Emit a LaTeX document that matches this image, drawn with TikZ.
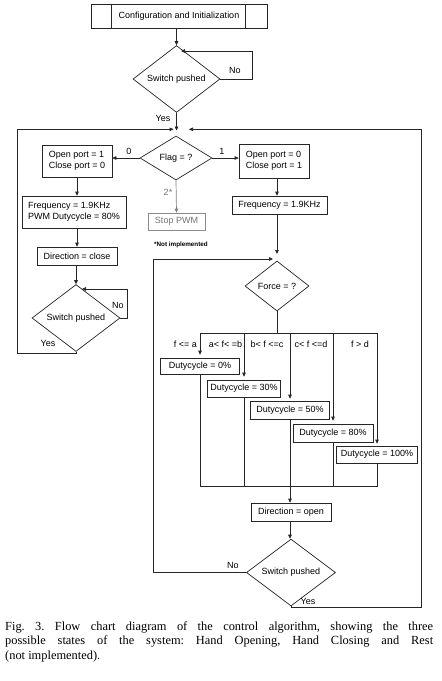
\documentclass[tikz,border=0pt]{standalone}
\usepackage{fontspec}
\setmainfont{Liberation Sans}
\newfontfamily\capfont{Liberation Serif}
\usetikzlibrary{shapes.geometric,arrows.meta}
\frenchspacing
\begin{document}
\begin{tikzpicture}[x=1pt,y=-1pt,
  every node/.style={font=\fontsize{9}{11.5}\selectfont, inner sep=0pt},
  box/.style={draw=black!85, line width=0.7pt, align=center},
  lbox/.style={draw=black!85, line width=0.7pt, align=left},
  dia/.style={draw=black!85, diamond, line width=0.7pt},
  ln/.style={line width=0.7pt, draw=black!85},
  arr/.style={-{Triangle[length=4pt,width=3.6pt]}, line width=0.7pt, draw=black!85},
  lbl/.style={font=\fontsize{9}{11}\selectfont},
  captxt/.style={font=\capfont\fontsize{12.4}{14.5}\selectfont, anchor=base west}
]
\useasboundingbox[fill=white] (0,0) rectangle (442,681);

% top part
\node[box, minimum width=176pt, minimum height=24pt] (cfg) at (179,16) {Configuration and Initialization};
\draw[ln] ([xshift=21pt]cfg.north west) -- ([xshift=21pt]cfg.south west);
\draw[ln] ([xshift=-22pt]cfg.north east) -- ([xshift=-22pt]cfg.south east);

\node[dia, minimum width=87pt, minimum height=50pt] (sw1) at (176.5,79) {Switch pushed};
\draw[arr] (sw1.north |- cfg.south) -- (sw1.north);
\coordinate (n1a) at (252,79);
\coordinate (n1b) at (252,51);
\coordinate (n1c) at (181,51);
\draw[arr] (sw1.east) -- (n1a) -- (n1b) -- (n1c);
\node[lbl] (no1) at (235,70) {No};

\coordinate (j0) at (176.5,130.5);
\draw[arr] (sw1.south) -- (j0);
\node[lbl] (yes1) at (163,118) {Yes};

\node[dia, minimum width=72pt, minimum height=44pt] (flag) at (176,158) {Flag = ?};

% left branch
\node[lbox, minimum width=70pt, minimum height=32pt] (lb1) at (77,161) {Open port = 1\\Close port = 0};
\draw[arr] (flag.west) -- (lb1.east |- flag.west);
\node[lbl] (l0) at (129,151) {0};

\node[lbox, minimum width=104pt, minimum height=32pt] (lb2) at (74,212) {Frequency = 1.9KHz\\PWM Dutycycle = 80\%};
\draw[arr] (lb1.south) -- (lb1.south |- lb2.north);

\node[box, minimum width=80pt, minimum height=18pt] (lb3) at (77,256) {Direction = close};
\draw[arr] (lb2.south -| lb3.south) -- (lb3.north);

\node[dia, minimum width=88pt, minimum height=49pt] (sw2) at (76,318) {Switch pushed};
\draw[arr] (lb3.south -| sw2.north) -- (sw2.north);
\coordinate (n2a) at (127,318);
\coordinate (n2b) at (127,289);
\coordinate (n2c) at (82,289);
\draw[arr] (sw2.east) -- (n2a) -- (n2b) -- (n2c);
\node[lbl] (no2) at (118,305) {No};

\coordinate (y2a) at (76,353);
\coordinate (y2b) at (17,353);
\coordinate (y2c) at (17,129.3);
\coordinate (y2d) at (173.5,129.3);
\draw[arr] (sw2.south) -- (y2a) -- (y2b) -- (y2c) -- (y2d);
\node[lbl] (yes2) at (48,343) {Yes};

% middle (not implemented)
\node[box, draw=black!45, text=black!55, minimum width=57pt, minimum height=17pt] (stop) at (176.5,221.5) {Stop PWM};
\draw[arr, draw=black!50] (flag.south) -- (stop.north);
\node[lbl, text=black!55] (l2) at (168,192) {2*};
\node[font=\fontsize{6.3}{7}\selectfont\bfseries] (note) at (181,245) {*Not implemented};

% right branch
\node[lbox, minimum width=70pt, minimum height=34pt] (rb1) at (274,161) {Open port = 0\\Close port = 1};
\draw[arr] (flag.east) -- (rb1.west |- flag.east);
\node[lbl] (l1) at (222,151) {1};

\node[box, minimum width=95pt, minimum height=18pt] (rb2) at (279.5,205) {Frequency = 1.9KHz};
\coordinate (rbx) at (277,0);
\draw[arr] (rb1.south -| rbx) -- (rb2.north -| rbx);

\node[dia, minimum width=64pt, minimum height=50pt] (force) at (277,286) {Force = ?};
\coordinate (fin) at (277,254);
\draw[arr] (rb2.south -| fin) -- (fin);

% duty cycle cases
\node[box, minimum width=79pt, minimum height=16pt] (d0) at (200,366) {Dutycycle = 0\%};
\node[box, minimum width=73pt, minimum height=17pt] (d30) at (244,388.5) {Dutycycle = 30\%};
\node[box, minimum width=79pt, minimum height=18pt] (d50) at (290,410) {Dutycycle = 50\%};
\node[box, minimum width=80pt, minimum height=18pt] (d80) at (333,433) {Dutycycle = 80\%};
\node[box, minimum width=81pt, minimum height=17pt] (d100) at (377,454.5) {Dutycycle = 100\%};

\coordinate (fb) at (277,333);
\coordinate (b0) at (200,333);
\coordinate (b4) at (377,333);
\draw[ln] (force.south) -- (fb);
\draw[ln] (b0) -- (b4);
\draw[arr, shorten >=3pt] (b0) -- (d0.north);
\draw[arr, shorten >=3pt] (d30.north |- fb) -- (d30.north);
\draw[arr, shorten >=2pt] (d50.north |- fb) -- (d50.north);
\draw[arr, shorten >=3pt] (d80.north |- fb) -- (d80.north);
\draw[arr, shorten >=2pt] (b4) -- (d100.north);

\node[lbl, anchor=east] (c0) at (197,344) {f <= a};
\node[lbl] (c1) at (225.5,344) {a< f< =b};
\node[lbl] (c2) at (267,344) {b< f <=c};
\node[lbl] (c3) at (311,344) {c< f <=d};
\node[lbl] (c4) at (360,344) {f > d};

\coordinate (m0) at (200,486);
\coordinate (m4) at (377,486);
\coordinate (m2) at (290,486);
\draw[ln] (d0.south) -- (m0) -- (m4) -- (d100.south);
\draw[ln] (d30.south) -- (d30.south |- m0);
\draw[ln] (d50.south) -- (m2);
\draw[ln] (d80.south) -- (d80.south |- m0);

\node[box, minimum width=80pt, minimum height=18pt] (dir) at (291,512) {Direction = open};
\draw[arr] (m2) -- (m2 |- dir.north);

\node[dia, minimum width=89pt, minimum height=49pt] (sw3) at (291,572.5) {Switch pushed};
\draw[arr] (dir.south -| m2) -- (m2 |- sw3.north);

\coordinate (n3a) at (153,572.5);
\coordinate (n3b) at (153,259);
\coordinate (n3c) at (273,259);
\draw[arr] (sw3.west) -- (n3a) -- (n3b) -- (n3c);
\node[lbl] (no3) at (233,565) {No};

\coordinate (y3a) at (291,607.5);
\coordinate (y3b) at (421,607.5);
\coordinate (y3c) at (421,129.3);
\coordinate (y3d) at (189,129.3);
\draw[arr] (sw3.south) -- (y3a) -- (y3b) -- (y3c) -- (y3d);
\node[lbl] (yes3) at (308,601) {Yes};

% caption
\node[captxt] (cap1) at (5,630) {\makebox[428pt][s]{Fig. 3. Flow chart diagram of the control algorithm, showing the three}};
\node[captxt] (cap2) at (5,644.5) {\makebox[428pt][s]{possible states of the system: Hand Opening, Hand Closing and Rest}};
\node[captxt] (cap3) at (5,659) {(not implemented).};
\end{tikzpicture}
\end{document}
